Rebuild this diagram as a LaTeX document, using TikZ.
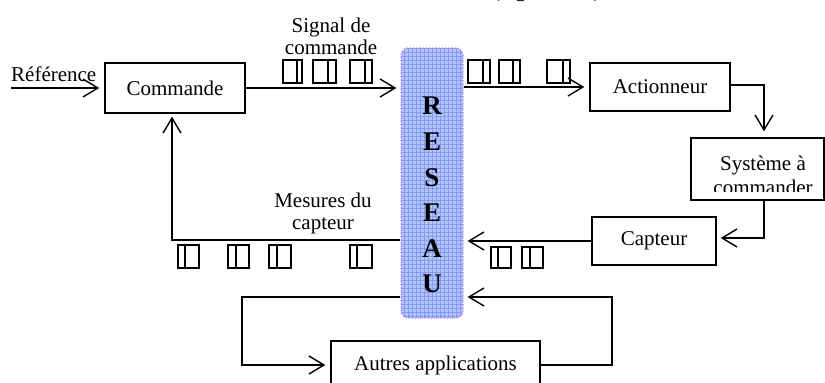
\documentclass[tikz,border=0pt]{standalone}
\usepackage{fontspec}
\setmainfont{Liberation Serif}
\usetikzlibrary{arrows.meta}
\definecolor{resfill}{RGB}{180,196,250}
\definecolor{resgrid}{RGB}{130,155,245}
\definecolor{resborder}{RGB}{200,120,240}
\newcommand\pkt[5]{\draw[pk] (#1,#4) rectangle (#3,#5); \draw[pk] (#2,#4) -- (#2,#5);}
\begin{document}
\begin{tikzpicture}[x=1pt,y=-1pt,
  box/.style={draw, line width=1.4pt, rectangle, inner sep=0pt, font=\fontsize{21}{24}\selectfont},
  arr/.style={-{Straight Barb[length=15pt,width=18pt]}, line width=1.4pt},
  pk/.style={line width=1.3pt},
  lbl/.style={font=\fontsize{21}{24}\selectfont, inner sep=0pt}]
\useasboundingbox (0,0) rectangle (825,383);

% figure caption (cut off at top)
\node[font=\fontsize{24}{28}\selectfont, anchor=base west, inner sep=0pt] (fig) at (492,-4) {(figure 1.1)};

% network band
\fill[resfill, rounded corners=7pt] (401,48) rectangle (463,318);
\begin{scope}
  \clip[rounded corners=7pt] (401,48) rectangle (463,318);
  \draw[resgrid, line width=0.5pt, step=4pt] (400,47) grid (464,319);
\end{scope}
\node[draw=resborder, dotted, line width=1.2pt, rounded corners=7pt, minimum width=62pt, minimum height=270pt, inner sep=0pt] (res) at (432,183) {};
\node[font=\fontsize{27}{35.6}\selectfont\bfseries, align=center, anchor=north, inner sep=0pt] (resl) at (432,97) {R\\E\\S\\E\\A\\U};

% boxes
\node[box, minimum width=140pt, minimum height=50pt] (cmd) at (175,88) {Commande};
\node[box, minimum width=140pt, minimum height=48pt] (act) at (660,87) {Actionneur};
\node[box, minimum width=133pt, minimum height=62pt] (sys) at (757.5,169) {};
\node[box, minimum width=124pt, minimum height=48pt] (cap) at (654,241) {Capteur};
\node[box, minimum width=209pt, minimum height=48pt] (aut) at (435.5,365) {Autres applications};
\begin{scope}
  \clip (692,139) rectangle (823,191);
  \node[lbl, anchor=base] (sys1) at (763,170) {Système à};
  \node[lbl, anchor=base] (sys2) at (763,194) {commander};
\end{scope}

% labels
\node[lbl, anchor=base west] (ref) at (11,81.5) {Référence};
\node[lbl, anchor=base] (sig1) at (331,32) {Signal de};
\node[lbl, anchor=base] (sig2) at (331,54) {commande};
\node[lbl, anchor=base] (mes1) at (323,207) {Mesures du};
\node[lbl, anchor=base] (mes2) at (323,229) {capteur};

% connectors
\coordinate (refin) at (11,88);
\coordinate (k1) at (764,85);
\coordinate (k2) at (764,238);
\coordinate (k3) at (172,240);
\coordinate (k4) at (242,297);
\coordinate (k5) at (242,365);
\coordinate (k6) at (612,365);
\coordinate (k7) at (612,297);
\draw[arr, shorten >=5pt] (refin) -- (cmd.west);
\draw[arr, shorten >=4pt] (cmd.east) -- (cmd.east -| res.west);
\draw[arr, shorten >=5pt] (res.east |- act.west) -- (act.west);
\draw[arr, shorten >=6pt] (act.east |- k1) -- (k1) -- (k1 |- sys.north);
\draw[arr, shorten >=4pt] (k2 |- sys.south) -- (k2) -- (k2 -| cap.east);
\draw[arr, shorten >=4pt] (cap.west) -- (cap.west -| res.east);
\draw[arr, shorten >=3pt] (res.west |- k3) -- (k3) -- (k3 |- cmd.south);
\draw[arr, shorten >=5pt] (res.west |- k4) -- (k4) -- (k5) -- (aut.west);
\draw[arr, shorten >=4pt] (aut.east) -- (k6) -- (k7) -- (k7 -| res.east);

% packets
\pkt{283}{297}{302}{60}{83} \pkt{313}{328}{336}{60}{83} \pkt{350}{365}{372}{60}{83}
\pkt{468}{483}{490}{60}{83} \pkt{499}{513}{520}{60}{83} \pkt{547}{563}{570}{60}{83}
\pkt{491}{498}{511}{247}{268} \pkt{522}{530}{543}{247}{268}
\pkt{178}{185}{199}{245}{268} \pkt{228}{236}{249}{245}{268} \pkt{269}{277}{291}{245}{268} \pkt{350}{357}{372}{245}{268}
\end{tikzpicture}
\end{document}
